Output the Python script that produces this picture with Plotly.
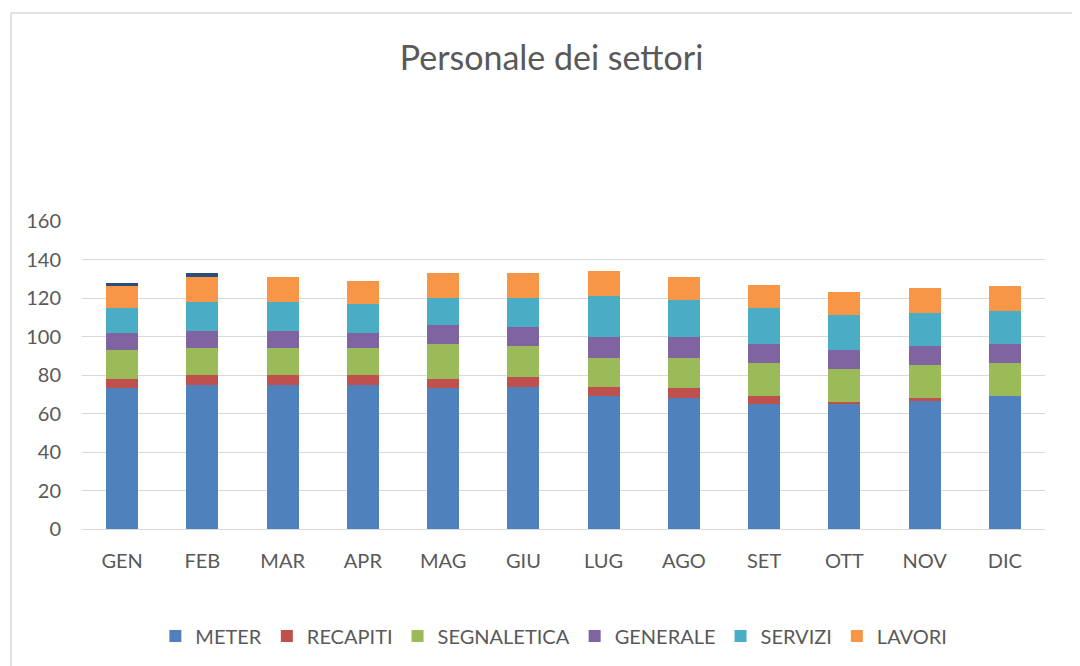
import plotly.graph_objects as go

months = ["GEN", "FEB", "MAR", "APR", "MAG", "GIU", "LUG", "AGO", "SET", "OTT", "NOV", "DIC"]
meter = [73, 75, 75, 75, 73, 74, 69, 68, 65, 65, 67, 69]
recapiti = [5, 5, 5, 5, 5, 5, 5, 5, 4, 1, 1, 0]
segnaletica = [15, 14, 14, 14, 18, 16, 15, 16, 17, 17, 17, 17]
generale = [9, 9, 9, 8, 10, 10, 11, 11, 10, 10, 10, 10]
servizi = [13, 15, 15, 15, 14, 15, 21, 19, 19, 18, 17, 17]
lavori = [11, 13, 13, 12, 13, 13, 13, 12, 12, 12, 13, 13]
altro = [2, 2, 0, 0, 0, 0, 0, 0, 0, 0, 0, 0]

series = [
    ("METER", meter, "#4f81bd", True),
    ("RECAPITI", recapiti, "#c0504d", True),
    ("SEGNALETICA", segnaletica, "#9bbb59", True),
    ("GENERALE", generale, "#8064a2", True),
    ("SERVIZI", servizi, "#4bacc6", True),
    ("LAVORI", lavori, "#f79646", True),
    ("ALTRO", altro, "#2c4d75", False),
]

font_family = "Lato, 'Open Sans', sans-serif"
fig = go.Figure()
for name, vals, color, show in series:
    fig.add_trace(go.Bar(
        x=months, y=vals, name=name, marker_color=color,
        marker_line_width=0, showlegend=show, width=0.4,
    ))

# page body has an 8px margin, compensate
L, T, R, B = 74, 213, 43, 145
plot_h = 666 - T - B
plot_w = 1080 - L - R

fig.update_layout(
    barmode="stack",
    width=1080, height=666,
    paper_bgcolor="white", plot_bgcolor="white",
    margin=dict(l=L, r=R, t=T, b=B),
    title=dict(text="Personale dei settori", x=543.5 / 1080, xref="container", xanchor="center",
               y=1 - 50 / 666, yanchor="middle",
               font=dict(family=font_family, size=34, color="#595959")),
    font=dict(family=font_family, size=20, color="#595959"),
    legend=dict(orientation="h", x=0.49, xanchor="center", y=-(636 - 529) / plot_h, yanchor="middle",
                font=dict(size=20, color="#595959"), traceorder="normal",
                itemwidth=30),
    xaxis=dict(showgrid=False, showline=True, linecolor="#d9d9d9", linewidth=1,
               ticks="", tickfont=dict(size=20, color="#595959"), ticklabelstandoff=14),
    yaxis=dict(range=[0, 160], dtick=20, showgrid=True, gridcolor="#d9d9d9",
               gridwidth=1, zeroline=False, showline=False, ticks="",
               tickfont=dict(size=20, color="#595959"), ticklabelstandoff=20),
    shapes=[dict(type="rect", xref="paper", yref="paper",
                 x0=-(L - 3) / plot_w, x1=1.1, y0=-0.6, y1=1 + (T - 5) / plot_h,
                 line=dict(color="#d9d9d9", width=1.5), fillcolor="rgba(0,0,0,0)")],
)

fig.write_html("out.html")
